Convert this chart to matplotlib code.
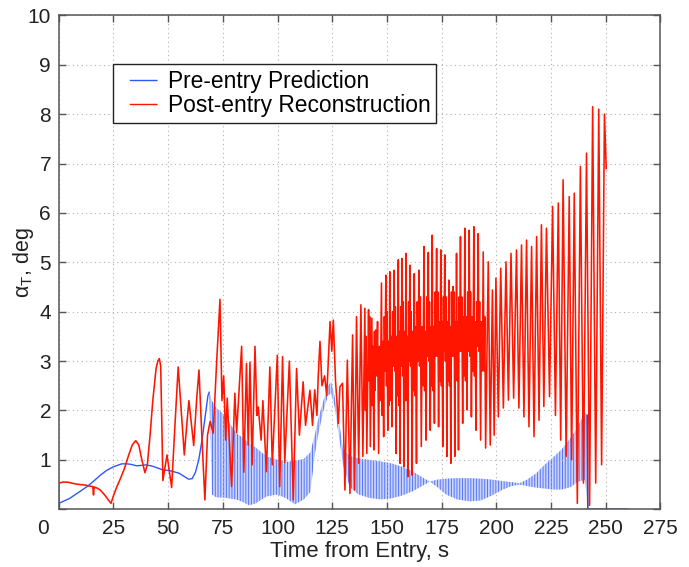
import numpy as np
import matplotlib.pyplot as plt
from matplotlib.lines import Line2D
from matplotlib.transforms import offset_copy

plt.rcParams['font.family'] = ['Liberation Sans', 'DejaVu Sans']
plt.rcParams['mathtext.fontset'] = 'custom'
plt.rcParams['mathtext.rm'] = 'Liberation Sans'
plt.rcParams['mathtext.it'] = 'Liberation Sans:italic'
plt.rcParams['hatch.linewidth'] = 0.7

# --- pre-entry prediction ---
# smooth part before the coning starts
blue_t = [0, 5, 10, 13, 16, 19, 22, 25, 28.8, 31, 33, 35.6, 38, 40, 43, 47.5,
          51, 55, 57.5, 59.3, 61, 62.5, 64, 65.5, 67, 68.2, 68.8]
blue_v = [0.12, 0.22, 0.37, 0.46, 0.57, 0.69, 0.79, 0.86, 0.92, 0.92, 0.91, 0.88,
          0.89, 0.9, 0.87, 0.8, 0.78, 0.73, 0.66, 0.61, 0.62, 0.75, 1.0, 1.4,
          1.9, 2.3, 2.37]

# fast coning: upper and lower envelope of the oscillation
band_t = [68.8, 70, 72, 75, 78, 81, 84, 87, 90, 95, 100, 104, 108, 112, 115,
          117, 119, 121, 123, 124.5, 126, 128, 130, 133, 137, 142, 147, 152,
          157, 162, 166, 169.6, 173, 177, 182, 188, 193, 198, 203, 207, 210.7,
          214, 218, 222, 226, 230, 234, 237, 240.4, 241.8]
band_hi = [2.37, 2.2, 2.05, 1.94, 1.75, 1.55, 1.45, 1.34, 1.25, 1.07, 1.0, 0.96,
           0.98, 1.02, 1.15, 1.5, 1.9, 2.2, 2.5, 2.58, 2.3, 1.8, 1.2, 1.08, 1.03,
           1.0, 0.97, 0.93, 0.86, 0.76, 0.65, 0.56, 0.6, 0.62, 0.63, 0.63, 0.62,
           0.6, 0.57, 0.55, 0.53, 0.6, 0.72, 0.9, 1.05, 1.22, 1.45, 1.65, 1.97,
           1.9]
band_lo = [2.37, 0.3, 0.24, 0.24, 0.22, 0.2, 0.15, 0.08, 0.12, 0.26, 0.3, 0.22,
           0.1, 0.2, 0.35, 1.1, 1.6, 2.0, 2.3, 2.35, 2.1, 1.5, 0.9, 0.45, 0.3,
           0.23, 0.2, 0.22, 0.28, 0.37, 0.47, 0.56, 0.45, 0.3, 0.2, 0.16, 0.18,
           0.28, 0.4, 0.47, 0.5, 0.47, 0.44, 0.42, 0.4, 0.4, 0.45, 0.55, 0.6,
           0.1]

blue_tail_t = [241.5, 241.8, 260]
blue_tail_v = [1.9, 0, 0]

# --- post-entry reconstruction ---
red_t0 = [0, 0, 2, 4, 6, 8, 10, 12, 14, 15.6, 15.9, 16.2, 17.5, 19, 21, 22.5,
          23.9, 25, 26.5, 28, 30, 32, 33.6, 35.2, 36.6, 38, 39.4, 40.5, 41.7,
          43, 44.5, 45.3, 46, 46.6, 47.1, 47.6, 49.5, 51.6, 53, 54.6, 56, 57.4,
          58.5, 59.5, 60.6, 61.7, 63, 64.1, 65.5, 66.8, 68, 69.2, 70.6, 72.2,
          73.7]
red_v0 = [0, 0.53, 0.55, 0.55, 0.53, 0.51, 0.5, 0.49, 0.47, 0.46, 0.29, 0.45,
          0.43, 0.39, 0.29, 0.2, 0.12, 0.27, 0.45, 0.6, 0.82, 1.1, 1.3, 1.39,
          1.3, 1.0, 0.74, 0.9, 1.47, 2.2, 2.85, 3.0, 3.05, 2.9, 1.8, 0.58, 1.1,
          0.44, 1.6, 2.88, 2.0, 1.1, 1.7, 2.2, 1.75, 1.29, 2.2, 2.82, 1.4, 0.19,
          1.5, 1.78, 1.54, 3.0, 4.25]

red_t1 = [74.6, 75.4, 76.3, 77.0, 79.0, 80.5, 81.3, 83.6, 84.6, 85.8, 86.6,
          87.4, 88.4, 89.7, 90.6, 91.2, 92.5, 93.3, 94.9, 96.5, 97.6, 99.9,
          101.0, 102.3, 103.3, 105.4, 107.2, 108.7, 110.0, 111.7, 112.8, 114.8,
          116.0, 117.0, 118.0, 118.6, 119.4, 120.3, 121.5, 122.5, 124.0, 124.8,
          125.5, 126.5, 127.8, 128.5]
red_v1 = [2.2, 2.7, 1.4, 2.25, 0.46, 2.35, 1.55, 3.3, 0.75, 2.95, 1.3, 2.98,
          0.9, 3.3, 1.9, 2.07, 1.4, 2.2, 0.76, 2.88, 0.9, 3.12, 0.46, 3.09, 0.95,
          3.0, 0.19, 2.85, 1.5, 2.58, 1.7, 2.41, 1.7, 2.42, 1.9, 2.7, 3.4, 2.5,
          2.7, 2.3, 3.8, 3.2, 3.83, 2.6, 1.74, 2.48]

peaks_t = [129.7, 131.9, 134.3, 136.1, 138.1, 139.9, 141.6, 143.1, 144.9, 147.5,
           149.5, 151.3, 153.3, 155.2, 156.9, 158.7, 160.5, 162.5, 164.6, 166.9,
           168.9, 170.7, 172.7, 174.6, 176.4, 178.3, 180.2, 181.8, 183.6, 185.6,
           187.6, 189.7, 191.7, 194.0, 196.3, 198.2, 199.8, 202.0, 204.4, 206.7,
           209.2, 211.5, 213.8, 216.1, 218.4, 220.6, 222.9, 225.7, 228.3, 230.5,
           233.3, 235.6, 238.4, 241.2, 244.0, 246.8, 249.4]
peaks_v = [2.55, 3.02, 3.53, 3.9, 4.14, 4.07, 4.04, 3.87, 3.63, 4.58, 4.74,
           4.81, 4.84, 5.05, 5.08, 5.18, 4.94, 4.77, 4.84, 5.32, 5.2, 5.55, 5.28,
           5.25, 5.15, 4.64, 4.51, 5.18, 5.52, 5.69, 5.65, 5.72, 5.58, 5.21,
           5.01, 4.44, 4.68, 4.88, 5.01, 5.18, 5.25, 5.35, 5.45, 5.32, 5.52,
           5.76, 5.69, 6.13, 6.2, 6.67, 6.33, 6.4, 6.94, 7.21, 8.15, 8.1, 8.0]

troughs_t = [130.8, 133.1, 135.2, 137.1, 139.0, 140.8, 142.4, 144.0, 146.2,
             148.5, 150.4, 152.3, 154.2, 156.0, 157.8, 159.6, 161.5, 163.5,
             165.7, 167.9, 169.8, 171.7, 173.6, 175.5, 177.4, 179.2, 181.0,
             182.7, 184.6, 186.6, 188.6, 190.7, 192.8, 195.1, 197.2, 199.0,
             200.9, 203.2, 205.5, 207.9, 210.3, 212.6, 214.9, 217.2, 219.5,
             221.7, 224.3, 227.0, 229.4, 231.9, 234.4, 237.0, 239.8, 242.6,
             245.4, 248.1]
troughs_v = [0.39, 0.32, 0.39, 0.93, 1.07, 1.13, 1.27, 1.2, 1.13, 1.47, 1.6,
             1.67, 1.13, 0.93, 0.86, 0.66, 0.69, 0.93, 1.27, 1.4, 1.6, 1.74,
             1.67, 1.27, 1.07, 0.93, 1.07, 1.2, 1.74, 2.01, 1.87, 1.6, 1.4, 1.24,
             1.3, 1.5, 1.87, 2.05, 2.21, 2.25, 2.05, 1.87, 1.67, 1.47, 1.8, 2.08,
             2.28, 1.9, 1.4, 1.07, 1.0, 0.12, 0.53, 0.08, 0.53, 0.9]

# secondary wiggle inside each cycle (the dense band around 2-4.4 deg)
# falling side: peak -> low wiggle -> high wiggle -> trough
inner_t = [140.2, 140.45, 141.85, 142.1, 143.4, 143.65, 145.3, 145.7, 147.8,
           148.1, 149.8, 150.05, 151.6, 151.9, 153.6, 153.85, 155.45, 155.7,
           157.2, 157.45, 159.0, 159.25, 160.8, 161.1, 162.8, 163.1, 164.9,
           165.25, 167.2, 167.5, 169.2, 169.45, 171.0, 171.3, 173.0, 173.25,
           174.9, 175.15, 176.7, 177.0, 178.6, 178.85, 180.45, 180.7, 182.1,
           182.35, 183.9, 184.2, 185.9, 186.2, 187.9, 188.2, 190.0, 190.3,
           192.0, 192.35, 194.35, 194.7]
inner_v = [2.0, 3.5, 2.6, 3.9, 2.1, 3.3, 2.7, 3.8, 1.9, 3.4, 2.5, 4.0, 2.2, 3.5,
           2.8, 4.1, 2.1, 3.6, 2.7, 4.2, 2.2, 3.5, 2.9, 4.0, 2.3, 3.7, 2.9, 4.3,
           2.4, 3.6, 3.0, 4.2, 2.4, 3.7, 3.1, 4.4, 2.5, 3.8, 3.0, 4.3, 2.5, 3.7,
           3.1, 4.4, 2.6, 3.8, 3.2, 4.3, 2.6, 3.9, 3.1, 4.4, 2.7, 3.8, 3.2, 4.2,
           2.8, 3.9]
# rising side: trough -> high wiggle -> low wiggle -> peak
inner2_t = [144.3, 144.55, 146.6, 147.0, 148.8, 149.1, 150.7, 151.0, 152.6,
            152.9, 154.5, 154.8, 156.3, 156.55, 158.1, 158.35, 159.9, 160.15,
            161.8, 162.1, 163.85, 164.2, 166.1, 166.5, 168.2, 168.5, 170.1,
            170.35, 172.0, 172.3, 173.9, 174.2, 175.8, 176.05, 177.7, 177.95,
            179.5, 179.8, 181.25, 181.5, 183.0, 183.25, 184.9, 185.2, 186.9,
            187.2, 188.95, 189.3, 191.0, 191.3, 193.2, 193.6]
inner2_v = [3.6, 2.4, 3.3, 2.2, 3.9, 2.8, 3.4, 2.1, 4.0, 2.9, 3.5, 2.3, 4.1,
            2.9, 3.6, 2.2, 4.2, 3.0, 3.6, 2.4, 4.2, 3.0, 3.7, 2.5, 4.3, 3.1,
            3.7, 2.5, 4.4, 3.1, 3.8, 2.6, 4.3, 3.2, 3.8, 2.6, 4.4, 3.1, 3.8,
            2.7, 4.3, 3.2, 3.9, 2.7, 4.4, 3.2, 3.9, 2.8, 4.2, 3.3, 3.8, 2.8]

red_end_t = [250.2]
red_end_v = [6.9]

late_t = np.concatenate([peaks_t, troughs_t, inner_t, inner2_t])
late_v = np.concatenate([peaks_v, troughs_v, inner_v, inner2_v])
order = np.argsort(late_t, kind='stable')

red_t = np.concatenate([red_t0, red_t1, late_t[order], red_end_t])
red_v = np.concatenate([red_v0, red_v1, late_v[order], red_end_v])

xticks = list(range(0, 276, 25))
yticks = list(range(0, 11))

fig = plt.figure(figsize=(6.89, 5.67), dpi=100)
ax = fig.add_axes([0.0852, 0.1018, 0.8734, 0.8712])

blue = '#2f55ff'
red = '#ff1500'
ax.fill_between(band_t, band_lo, band_hi, facecolor='#c9d3fd',
                edgecolor='#5576f7', hatch='||||||', linewidth=0)
ax.plot(blue_t, blue_v, color=blue, lw=1.0)
ax.plot(blue_tail_t, blue_tail_v, color='#3347c8', lw=1.2)
ax.plot(red_t, red_v, color=red, lw=1.15)

ax.set_xlim(0, 275)
ax.set_ylim(0, 10)
ax.set_xticks(xticks)
ax.set_yticks(yticks)
ax.set_xticklabels([''] + [str(x) for x in xticks[1:]])
ax.set_yticklabels([''] + [str(y) for y in yticks[1:]])

# the shared origin label sits left of the corner
ax.text(-0.026, 0, '0', fontsize=15, color='#222222', ha='center', va='top',
        transform=offset_copy(ax.transAxes, fig=fig, y=-7, units='points'))

ax.grid(True, linestyle=(0, (1, 3)), color='#b0b0b0', lw=0.8)
ax.tick_params(direction='in', top=True, right=True, length=5, width=1,
               colors='#555555', labelcolor='#222222', labelsize=15)
ax.tick_params(axis='x', pad=7)
ax.tick_params(axis='y', pad=5.5)
for s in ax.spines.values():
    s.set_color('#555555')
    s.set_linewidth(1.1)

ax.set_xlabel('Time from Entry, s', fontsize=16, color='#222222', labelpad=2)
ax.set_ylabel(r'$\mathrm{\alpha_T}$, deg', fontsize=15.5, color='#222222')
ax.yaxis.set_label_coords(-0.038, 0.5)

# legend keys: a short blank lead-in, then the coloured stroke
key_style = (0, (0.01, 7.4, 20, 60))
h1 = Line2D([], [], color=blue, lw=1.0, linestyle=key_style)
h2 = Line2D([], [], color=red, lw=1.0, linestyle=key_style)
leg = ax.legend([h1, h2], ['Pre-entry Prediction', 'Post-entry Reconstruction'],
                loc='upper left', bbox_to_anchor=(0.09, 0.901), fontsize=16.4,
                frameon=True, fancybox=False, edgecolor='#222222', framealpha=1,
                borderpad=0.25, labelspacing=0.05, handlelength=1.72,
                handletextpad=0.45, borderaxespad=0)
leg.get_frame().set_linewidth(1.0)

fig.savefig('out.png', dpi=100)
